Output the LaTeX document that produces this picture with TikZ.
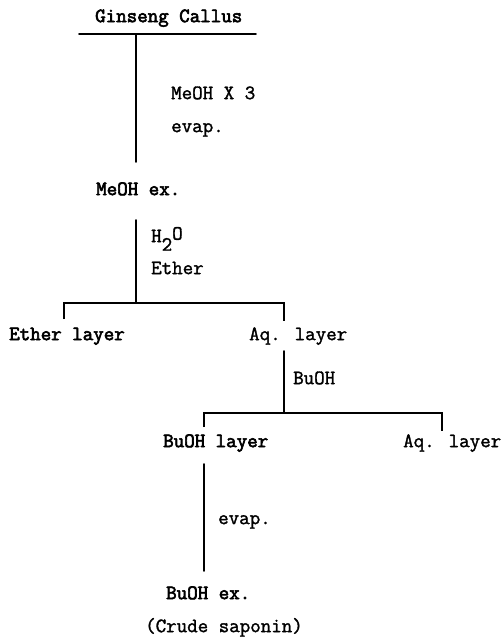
\documentclass[tikz,border=0pt]{standalone}
\usepackage{fontspec}
\newfontfamily\twbold[FakeBold=3]{Latin Modern Mono}
\newfontfamily\twreg[FakeBold=1.6]{Latin Modern Mono}
\begin{document}
\begin{tikzpicture}[x=1pt,y=-1pt,
  lbl/.style={anchor=mid west,inner sep=0pt,font=\fontsize{20.4}{22}\twreg},
  blbl/.style={anchor=mid west,inner sep=0pt,font=\fontsize{20.4}{22}\twbold},
  ln/.style={line width=1.9pt,line cap=round},
  tick/.style={line width=1.5pt}]
\useasboundingbox (0,0) rectangle (503,638);
% texts
\node[blbl] (gc) at (95,20) {Ginseng Callus};
\node[lbl] (m3) at (171,97) {MeOH X 3};
\node[lbl] (ev1) at (171,130) {evap.};
\node[blbl] (mex) at (96,193) {MeOH ex.};
\node[lbl] (h2o) at (151,240) {H\raisebox{-0.42em}{2}\raisebox{0.12em}{O}};
\node[lbl] (eth) at (151,272) {Ether};
\node[blbl] (el) at (9,338) {Ether layer};
\node[lbl] (aq1) at (249,338) {Aq. layer};
\node[lbl] (bu) at (293,382) {BuOH};
\node[blbl] (bl) at (163,445) {BuOH layer};
\node[lbl] (aq2) at (403,445) {Aq. layer};
\node[lbl] (ev2) at (218,522) {evap.};
\node[blbl] (bex) at (166,597) {BuOH ex.};
\node[lbl] (cs) at (145,630) {(Crude saponin)};
% junction coordinates
\coordinate (tL) at (79,34);
\coordinate (tR) at (256,34);
\coordinate (v1a) at (136,34);
\coordinate (v1b) at (136,162);
\coordinate (v2a) at (136,220);
\coordinate (v2b) at (136,303);
\coordinate (h1L) at (64,303);
\coordinate (h1R) at (284,303);
\coordinate (h1Ld) at (64,319);
\coordinate (h1Rd) at (284,321);
\coordinate (v3a) at (284,351);
\coordinate (v3b) at (284,413);
\coordinate (h2L) at (204,413);
\coordinate (h2R) at (442,413);
\coordinate (h2Ld) at (204,427);
\coordinate (h2Rd) at (442,431);
\coordinate (v4a) at (204,464);
\coordinate (v4b) at (204,571);
% lines
\draw[ln] (tL) -- (tR);
\draw[ln] (v1a) -- (v1b);
\draw[ln] (v2a) -- (v2b);
\draw[tick] (h1Ld) -- (h1L) -- (h1R) -- (h1Rd);
\draw[ln] (v3a) -- (v3b);
\draw[tick] (h2Ld) -- (h2L) -- (h2R) -- (h2Rd);
\draw[ln] (v4a) -- (v4b);
\end{tikzpicture}
\end{document}
